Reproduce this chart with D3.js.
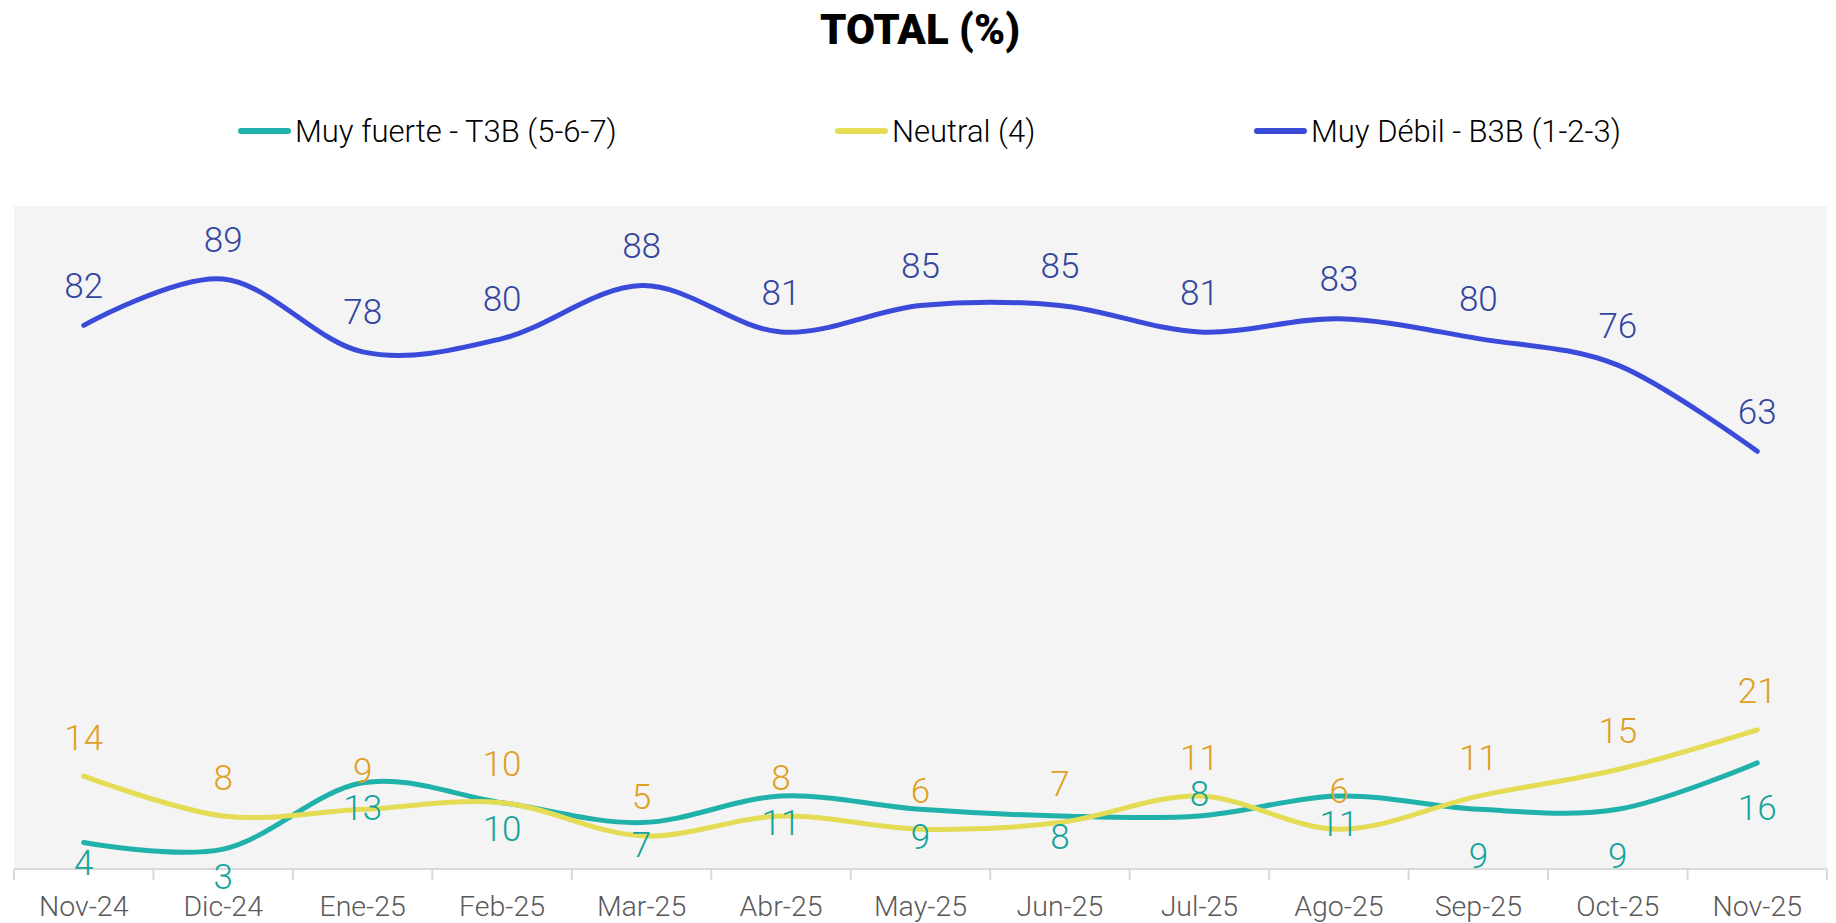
<!DOCTYPE html>
<html>
<head>
  <meta charset="utf-8">
  <style>
    body {
      margin: 0;
      background: #fff;
    }
    svg text {
      font-family: Roboto, "Noto Sans", sans-serif;
    }
  </style>
</head>
<body>
  <div id="chart"></div>
  <script src="https://d3js.org/d3.v7.min.js"></script>
  <script>
    // chart data
    var months = ["Nov-24", "Dic-24", "Ene-25", "Feb-25", "Mar-25", "Abr-25", "May-25",
      "Jun-25", "Jul-25", "Ago-25", "Sep-25", "Oct-25", "Nov-25"];
    var muyFuerte = [4, 3, 13, 10, 7, 11, 9, 8, 8, 11, 9, 9, 16];
    var neutral = [14, 8, 9, 10, 5, 8, 6, 7, 11, 6, 11, 15, 21];
    var muyDebil = [82, 89, 78, 80, 88, 81, 85, 85, 81, 83, 80, 76, 63];
    var seriesNames = ["Muy fuerte - T3B (5-6-7)", "Neutral (4)", "Muy Débil - B3B (1-2-3)"];

    // where each teal label sits relative to its point (Excel put some of them by hand)
    var fuerteLabelDy = [20, 27, 25, 26, 22, 26, 27, 20, -23, 27, 46, 46, 44];

    var width = 1836,
      height = 923;
    var plot = { left: 14, right: 1827, top: 206, bottom: 869 };

    var svg = d3.select("#chart").append("svg")
      .attr("width", width)
      .attr("height", height);

    var x = d3.scaleBand()
      .domain(months)
      .range([plot.left, plot.right])
      .padding(0);

    var y = d3.scaleLinear()
      .domain([0, 100])
      .range([plot.bottom, plot.top]);

    var series = [
      { name: seriesNames[0], values: muyFuerte, line: "#20b2aa", label: "#14a39b", labelDy: function(d, i) { return fuerteLabelDy[i]; } },
      { name: seriesNames[1], values: neutral, line: "#e4dc55", label: "#e09f1e", labelDy: function() { return -39; } },
      { name: seriesNames[2], values: muyDebil, line: "#3a4bd9", label: "#33469f", labelDy: function() { return -40; } }
    ];

    // title
    svg.append("text")
      .attr("x", 920)
      .attr("y", 44)
      .attr("text-anchor", "middle")
      .style("font-size", "42px")
      .style("font-weight", "900")
      .style("fill", "#000")
      .text("TOTAL (%)");

    // legend
    var legendX = [238, 835, 1254];
    var legend = svg.selectAll(".legend")
      .data(series)
      .enter().append("g")
      .attr("class", "legend")
      .attr("transform", function(d, i) { return "translate(" + legendX[i] + ",131)"; });
    legend.append("line")
      .attr("x1", 3).attr("x2", 50)
      .attr("y1", 0).attr("y2", 0)
      .attr("stroke", function(d) { return d.line; })
      .attr("stroke-width", 6)
      .attr("stroke-linecap", "round");
    legend.append("text")
      .attr("x", 57)
      .attr("y", 11)
      .style("font-size", "31px")
      .style("font-weight", "300")
      .style("fill", "#000")
      .text(function(d) { return d.name; });

    // plot background
    svg.append("rect")
      .attr("x", plot.left)
      .attr("y", plot.top)
      .attr("width", plot.right - plot.left)
      .attr("height", plot.bottom - plot.top)
      .attr("fill", "#f4f4f4");

    // x axis
    var xAxis = svg.append("g")
      .attr("transform", "translate(0," + plot.bottom + ")");
    xAxis.append("line")
      .attr("x1", plot.left).attr("x2", plot.right)
      .attr("stroke", "#d9d9d9")
      .attr("stroke-width", 2);
    var edges = months.map(function(m) { return x(m); }).concat([plot.right]);
    xAxis.selectAll(".tick")
      .data(edges)
      .enter().append("line")
      .attr("x1", function(d) { return d; })
      .attr("x2", function(d) { return d; })
      .attr("y1", 0).attr("y2", 11)
      .attr("stroke", "#d9d9d9")
      .attr("stroke-width", 2);
    xAxis.selectAll(".lbl")
      .data(months)
      .enter().append("text")
      .attr("x", function(d) { return x(d) + x.bandwidth() / 2; })
      .attr("y", 47)
      .attr("text-anchor", "middle")
      .style("font-size", "28.5px")
      .style("font-weight", "300")
      .style("fill", "#595959")
      .text(function(d) { return d; });

    var line = d3.line()
      .x(function(d, i) { return x(months[i]) + x.bandwidth() / 2; })
      .y(function(d) { return y(d); })
      .curve(d3.curveCardinal.tension(0));

    series.forEach(function(s) {
      svg.append("path")
        .datum(s.values)
        .attr("d", line)
        .attr("fill", "none")
        .attr("stroke", s.line)
        .attr("stroke-width", 5)
        .attr("stroke-linecap", "round");
    });

    series.forEach(function(s) {
      svg.selectAll(null)
        .data(s.values)
        .enter().append("text")
        .attr("x", function(d, i) { return x(months[i]) + x.bandwidth() / 2; })
        .attr("y", function(d, i) { return y(d) + s.labelDy(d, i); })
        .attr("dy", "0.36em")
        .attr("text-anchor", "middle")
        .style("font-size", "35px")
        .style("font-weight", "300")
        .style("fill", s.label)
        .text(function(d) { return d; });
    });
  </script>
</body>
</html>
